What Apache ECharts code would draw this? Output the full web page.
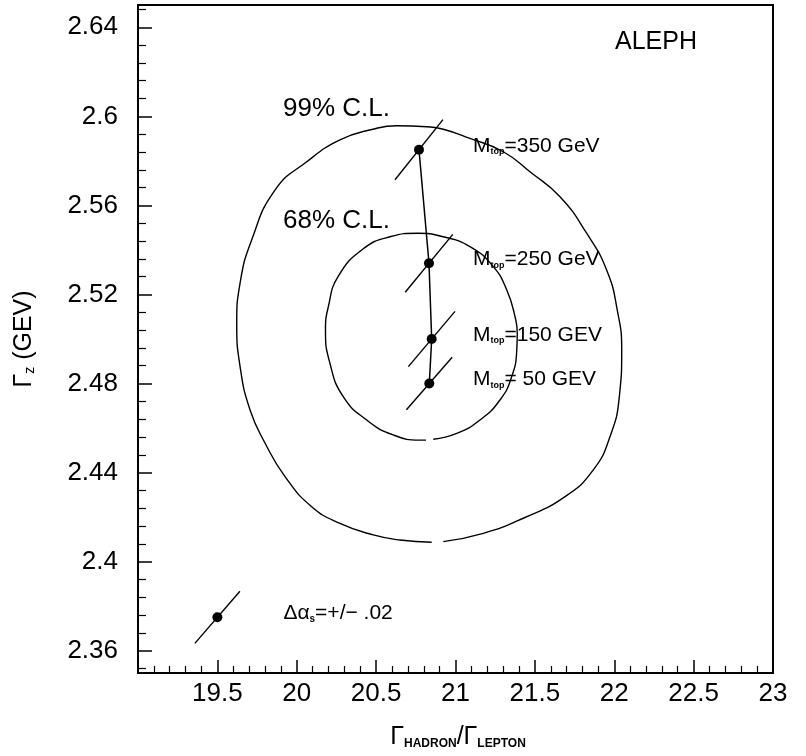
<!DOCTYPE html>
<html>
<head>
<meta charset="utf-8">
<script src="https://cdn.jsdelivr.net/npm/echarts@6/dist/echarts.min.js"></script>
<style>
  html, body { margin: 0; padding: 0; background: #fff; }
  #chart { width: 806px; height: 756px; }
</style>
</head>
<body>
<div id="chart"></div>
<script>
// Axis ticks
const xTickLabels = [19.5, 20, 20.5, 21, 21.5, 22, 22.5, 23];
const yTickLabels = [2.36, 2.4, 2.44, 2.48, 2.52, 2.56, 2.6, 2.64];

// 99% C.L. contour (open at the bottom)
const outerX = [20.923, 21.175, 21.427, 21.690, 21.868, 21.973, 22.032, 22.047, 22.019, 21.952,
                21.826, 21.658, 21.469, 21.301, 21.091, 20.923, 20.819, 20.630, 20.480, 20.272,
                20.063, 19.863, 19.716, 19.643, 19.622, 19.643, 19.706, 19.800, 19.926, 20.094,
                20.272, 20.482, 20.650, 20.850];
const outerY = [2.4090, 2.4127, 2.4195, 2.4292, 2.4412, 2.4561, 2.4741, 2.4951, 2.5130, 2.5310,
                2.5475, 2.5639, 2.5751, 2.5841, 2.5901, 2.5942, 2.5953, 2.5958, 2.5942, 2.5894,
                2.5796, 2.5669, 2.5445, 2.5251, 2.5072, 2.4876, 2.4681, 2.4533, 2.4382, 2.4247,
                2.4172, 2.4120, 2.4097, 2.4087];

// 68% C.L. contour (open at the bottom)
const innerX = [20.860, 21.008, 21.154, 21.280, 21.354, 21.386, 21.389, 21.375, 21.323, 21.238,
                21.091, 20.923, 20.764, 20.587, 20.417, 20.260, 20.199, 20.181, 20.209, 20.293,
                20.441, 20.608, 20.776, 20.814];
const innerY = [2.4550, 2.4576, 2.4636, 2.4726, 2.4831, 2.4951, 2.5027, 2.5100, 2.5220, 2.5325,
                2.5415, 2.5459, 2.5475, 2.5459, 2.5404, 2.5280, 2.5145, 2.5040, 2.4891, 2.4741,
                2.4636, 2.4569, 2.4546, 2.4546];

// Standard Model predictions for several top masses
const mtopLabels = ['350 GeV', '250 GeV', '150 GEV', ' 50 GEV'];
const mtopX = [20.770, 20.833, 20.850, 20.835];
const mtopY = [2.585, 2.534, 2.500, 2.480];
// half extent of the alpha_s variation segment through each prediction
const alphaHalfX = [0.151, 0.150, 0.147, 0.144];
const alphaHalfY = [0.0135, 0.0130, 0.0124, 0.0118];

// Legend marker for the alpha_s variation
const refX = [19.5];
const refY = [2.375];
const refHalfX = [0.142];
const refHalfY = [0.0117];

const FONT = '"Liberation Sans", Arial, Helvetica, sans-serif';

// minor tick positions on the y axis (five divisions per labelled step)
const yMinor = [];
for (let k = 0; k <= 37; k++) {
  if ((k - 1) % 5 !== 0) yMinor.push(+(2.352 + 0.008 * k).toFixed(3));
}

const chart = echarts.init(document.getElementById('chart'), null, { renderer: 'canvas' });

const segData = mtopX.map((x, i) => [x, mtopY[i], alphaHalfX[i], alphaHalfY[i]])
  .concat(refX.map((x, i) => [x, refY[i], refHalfX[i], refHalfY[i]]));

const option = {
  backgroundColor: '#fff',
  animation: false,
  grid: {
    left: 138, top: 5, right: 33, bottom: 83,
    show: true, borderColor: '#000', borderWidth: 2, backgroundColor: 'transparent'
  },
  xAxis: {
    type: 'value', min: 19, max: 23, interval: 0.5,
    axisLine: { show: true, lineStyle: { color: '#000', width: 2 } },
    axisTick: { show: true, inside: true, length: 13, lineStyle: { color: '#000', width: 1.5 } },
    minorTick: { show: true, splitNumber: 5, length: 7, lineStyle: { color: '#000', width: 1.2 } },
    splitLine: { show: false },
    axisLabel: {
      color: '#000', fontSize: 26, fontFamily: FONT, margin: 8,
      customValues: xTickLabels,
      formatter: v => String(v)
    }
  },
  yAxis: [{
    type: 'value', min: 2.35, max: 2.65,
    axisLine: { show: true, lineStyle: { color: '#000', width: 2 } },
    axisTick: { show: true, inside: true, length: 14, customValues: yTickLabels,
                lineStyle: { color: '#000', width: 1.5 } },
    splitLine: { show: false },
    axisLabel: {
      color: '#000', fontSize: 26, fontFamily: FONT, margin: 20,
      customValues: yTickLabels,
      formatter: v => String(+v.toFixed(2))
    }
  }, {
    type: 'value', min: 2.35, max: 2.65, position: 'left',
    axisLine: { show: false },
    axisTick: { show: true, inside: true, length: 8, customValues: yMinor,
                lineStyle: { color: '#000', width: 1.2 } },
    axisLabel: { show: false },
    splitLine: { show: false }
  }],
  series: [
    {
      name: '99% C.L.', type: 'line', silent: true, smooth: 0.5, symbol: 'none',
      data: outerX.map((x, i) => [x, outerY[i]]),
      lineStyle: { color: '#000', width: 1.4 }
    },
    {
      name: '68% C.L.', type: 'line', silent: true, smooth: 0.5, symbol: 'none',
      data: innerX.map((x, i) => [x, innerY[i]]),
      lineStyle: { color: '#000', width: 1.4 }
    },
    {
      name: 'alpha_s', type: 'custom', silent: true,
      data: segData,
      encode: { x: 0, y: 1 },
      renderItem(params, api) {
        const x = api.value(0), y = api.value(1), hx = api.value(2), hy = api.value(3);
        const p1 = api.coord([x - hx, y - hy]);
        const p2 = api.coord([x + hx, y + hy]);
        return {
          type: 'line',
          shape: { x1: p1[0], y1: p1[1], x2: p2[0], y2: p2[1] },
          style: { stroke: '#000', lineWidth: 1.4 }
        };
      },
      z: 3
    },
    {
      name: 'Mtop', type: 'line', silent: true,
      data: mtopX.map((x, i) => [x, mtopY[i]]),
      symbol: 'circle', symbolSize: 10, showAllSymbol: true,
      itemStyle: { color: '#000', opacity: 1 },
      lineStyle: { color: '#000', width: 1.5 },
      z: 4
    },
    {
      name: 'Mtop labels', type: 'scatter', silent: true, symbolSize: 0,
      itemStyle: { opacity: 1 },
      data: mtopY.map((y, i) => ({ value: [21.11, y], name: mtopLabels[i] })),
      label: {
        show: true, position: 'right', distance: 0, offset: [0, -4], color: '#000',
        formatter: p => '{m|M}{s|top}{m|=' + p.name + '}',
        rich: {
          m: { fontSize: 21, fontFamily: FONT, color: '#000' },
          s: { fontSize: 9, fontWeight: 'bold', fontFamily: FONT, color: '#000', padding: [12, 0, 0, 0] }
        }
      },
      z: 5
    },
    {
      name: 'reference', type: 'scatter', silent: true,
      data: refX.map((x, i) => [x, refY[i]]),
      symbol: 'circle', symbolSize: 10,
      itemStyle: { color: '#000', opacity: 1 },
      label: {
        show: true, position: 'right', distance: 61, offset: [0, -4], color: '#000',
        formatter: () => '{m|Δα}{s|s}{m|=+/− .02}',
        rich: {
          m: { fontSize: 21, fontFamily: FONT, color: '#000' },
          s: { fontSize: 10, fontWeight: 'bold', fontFamily: FONT, color: '#000', padding: [12, 0, 0, 0] }
        }
      },
      z: 4
    }
  ],
  graphic: [
    { type: 'text', x: 283, y: 109,
      style: { text: '99% C.L.', font: '26px ' + FONT, fill: '#000', textVerticalAlign: 'middle' } },
    { type: 'text', x: 283, y: 221,
      style: { text: '68% C.L.', font: '26px ' + FONT, fill: '#000', textVerticalAlign: 'middle' } },
    { type: 'text', x: 615, y: 42,
      style: { text: 'ALEPH', font: '25px ' + FONT, fill: '#000', textVerticalAlign: 'middle' } },
    { type: 'text', x: 24, y: 339, rotation: Math.PI / 2,
      style: {
        text: '{g|Γ}{s|z}{g| (GEV)}',
        align: 'center', verticalAlign: 'middle',
        rich: {
          g: { fontSize: 25, fontFamily: FONT, fill: '#000' },
          s: { fontSize: 14, fontFamily: FONT, fill: '#000', padding: [12, 0, 0, 0] }
        }
      } },
    { type: 'text', x: 458, y: 737,
      style: {
        text: '{g|Γ}{s|HADRON}{g|/}{g|Γ}{s|LEPTON}',
        align: 'center', verticalAlign: 'middle',
        rich: {
          g: { fontSize: 25, fontFamily: FONT, fill: '#000' },
          s: { fontSize: 12, fontWeight: 'bold', fontFamily: FONT, fill: '#000', padding: [14, 0, 0, 0] }
        }
      } }
  ]
};

chart.setOption(option);
</script>
</body>
</html>
